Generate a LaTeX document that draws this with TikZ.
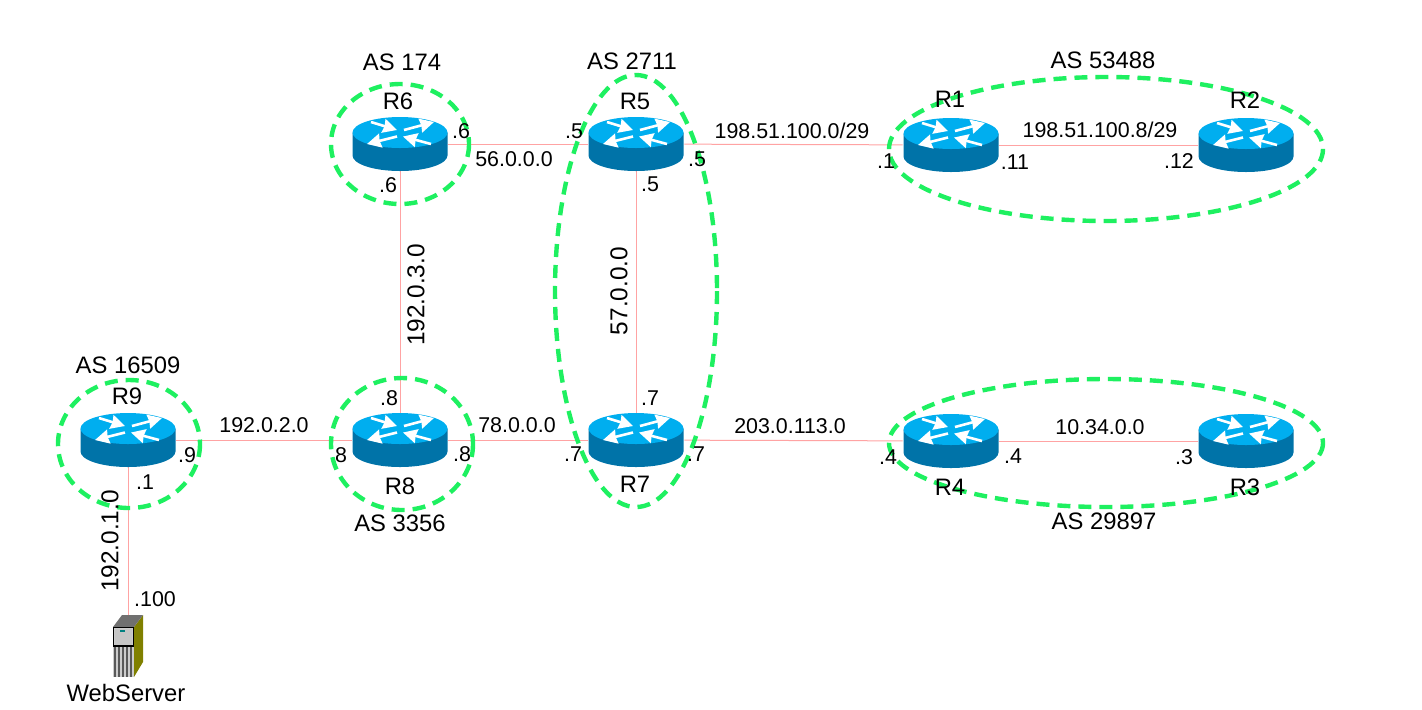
\documentclass[tikz,border=0pt]{standalone}
\usepackage{fontspec}
\setmainfont{Liberation Sans}
\usetikzlibrary{arrows.meta}
\definecolor{linkpink}{HTML}{FFA3A3}
\definecolor{asgreen}{HTML}{1EF060}
\definecolor{routertop}{HTML}{00AEEF}
\definecolor{routerside}{HTML}{0073A8}
\definecolor{serverolive}{HTML}{808000}
\definecolor{servertop}{HTML}{707070}
\tikzset{
  routerbox/.style={minimum width=48pt,minimum height=27pt,inner sep=0pt},
  serverbox/.style={minimum width=15pt,minimum height=31pt,inner sep=0pt},
  link/.style={linkpink,line width=0.5pt},
  asline/.style={asgreen,line width=2.2pt,dash pattern=on 6.5pt off 4pt},
  bigtext/.style={font=\fontsize{11.9}{13}\selectfont,inner sep=0pt},
  sidetext/.style={font=\fontsize{12.2}{13}\selectfont,inner sep=0pt,rotate=90},
  addr/.style={font=\fontsize{10.7}{12}\selectfont,inner sep=0pt},
  whitearrow/.style={white,line width=1.3pt,-{Stealth[length=7pt,width=7pt,inset=0.5pt]}}
}
% one router symbol, centred on the named node
\newcommand{\routericon}[1]{
  \begin{scope}[shift={(#1)}]
    \fill[routerside] (-47.5,-11.5) -- (-47.5,11.5) arc (180:360:47.5 and -15.5) -- (47.5,-11.5) -- cycle;
    \fill[routertop] (0,-11.5) ellipse (47.5 and 15.5);
    \draw[whitearrow] (-29,-22) -- (-3,-14);
    \draw[whitearrow] (4,-14) -- (34,-22);
    \draw[whitearrow] (-3,-7.5) -- (-33,0);
    \draw[whitearrow] (31,0) -- (3,-7.5);
  \end{scope}
}
\begin{document}
\begin{tikzpicture}[x=0.5pt,y=-0.5pt]
\useasboundingbox (0,0) rectangle (1422,709);

\node (r1)[routerbox] at (951,145) {};
\node (r2)[routerbox] at (1246,145) {};
\node (r3)[routerbox] at (1246,441) {};
\node (r4)[routerbox] at (951,441) {};
\node (r5)[routerbox] at (636,144) {};
\node (r6)[routerbox] at (400,144) {};
\node (r7)[routerbox] at (636,440) {};
\node (r8)[routerbox] at (400,440) {};
\node (r9)[routerbox] at (128,440) {};
\node (web)[serverbox] at (128,646) {};

\path[link] (r6) edge (r5);
\path[link] (r5) edge (r1);
\path[link] (r1) edge (r2);
\path[link] (r6) edge (r8);
\path[link] (r5) edge (r7);
\path[link] (r9) edge (r8);
\path[link] (r8) edge (r7);
\path[link] (r7) edge (r4);
\path[link] (r4) edge (r3);
\path[link] (r9) edge (web);

\foreach \n in {r1,r2,r3,r4,r5,r6,r7,r8,r9} {\routericon{\n}}

% server symbol
\fill[serverolive] (134,627) -- (143,615) -- (143,662) -- (134,677) -- cycle;
\fill[servertop] (113,627) -- (122,615) -- (143,615) -- (134,627) -- cycle;
\fill[gray!40] (113,627) rectangle (134,677);
\foreach \s in {114,118,122,126,130} {\fill[black!65] (\s,646) rectangle (\s+2,677);}
\draw[black,line width=0.6pt] (113.5,627.5) rectangle (133.5,646);
\fill[gray!45] (115,629) rectangle (132,645);
\fill[teal] (120,630) rectangle (125,632);

\draw[asline] (400,144) ellipse (69 and 60);
\draw[asline] (636,291) ellipse (81 and 216);
\draw[asline] (1106,149) ellipse (217 and 72);
\draw[asline] (1106,443) ellipse (217 and 64);
\draw[asline] (402,444) ellipse (71 and 66);
\draw[asline] (129,444) ellipse (71 and 64);

\node (as174)[bigtext] at (402,62) {AS 174};
\node (as2711)[bigtext] at (632,61) {AS 2711};
\node (as53488)[bigtext] at (1103,60) {AS 53488};
\node (as16509)[bigtext] at (128,365) {AS 16509};
\node (as3356)[bigtext] at (400,523) {AS 3356};
\node (as29897)[bigtext] at (1104,521) {AS 29897};

\node (t6)[bigtext] at (398,101) {R6};
\node (t5)[bigtext] at (635,101) {R5};
\node (t1)[bigtext] at (950,99) {R1};
\node (t2)[bigtext] at (1245,100) {R2};
\node (t9)[bigtext] at (127,396) {R9};
\node (t8)[bigtext] at (400,486) {R8};
\node (t7)[bigtext] at (635,484) {R7};
\node (t4)[bigtext] at (950,487) {R4};
\node (t3)[bigtext] at (1245,487) {R3};
\node (tweb)[bigtext] at (126,693) {WebServer};

\node (n56)[addr] at (514,159) {56.0.0.0};
\node (n198a)[addr] at (792,131) {198.51.100.0/29};
\node (n198b)[addr] at (1100,130) {198.51.100.8/29};
\node (n192b)[addr] at (264,425) {192.0.2.0};
\node (n78)[addr] at (517,425) {78.0.0.0};
\node (n203)[addr] at (790,426) {203.0.113.0};
\node (n10)[addr] at (1100,427) {10.34.0.0};
\node (n192c)[sidetext] at (416,295) {192.0.3.0};
\node (n57)[sidetext] at (619,291) {57.0.0.0};
\node (n192a)[sidetext] at (110,541) {192.0.1.0};

\node (a1)[addr] at (461,131) {.6};
\node (a2)[addr] at (574,131) {.5};
\node (a3)[addr] at (697,159) {.5};
\node (a4)[addr] at (886,161) {.1};
\node (a5)[addr] at (1015,162) {.11};
\node (a6)[addr] at (1179,161) {.12};
\node (a7)[addr] at (388,185) {.6};
\node (a8)[addr] at (650,184) {.5};
\node (a9)[addr] at (389,398) {.8};
\node (a10)[addr] at (650,398) {.7};
\node (a11)[addr] at (187,455) {.9};
\node (a12)[addr] at (341,455) {8};
\node (a13)[addr] at (462,454) {.8};
\node (a14)[addr] at (573,454) {.7};
\node (a15)[addr] at (696,454) {.7};
\node (a16)[addr] at (888,457) {.4};
\node (a17)[addr] at (1013,456) {.4};
\node (a18)[addr] at (1184,457) {.3};
\node (a19)[addr] at (145,482) {.1};
\node (a20)[addr] at (155,599) {.100};
\end{tikzpicture}
\end{document}
